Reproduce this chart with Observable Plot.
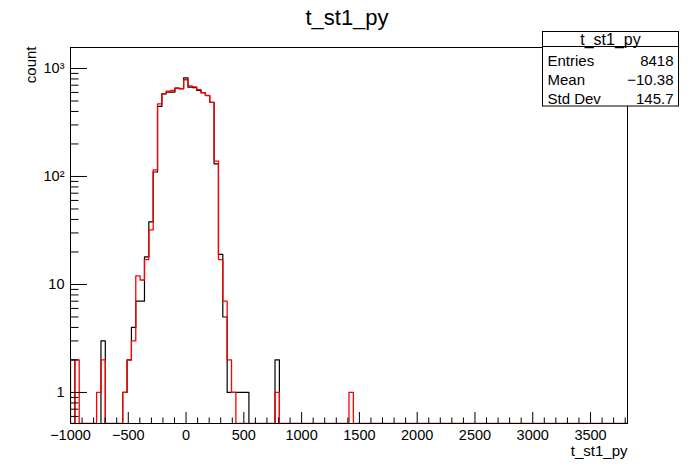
<!DOCTYPE html>
<html><head><meta charset="utf-8">
<script src="https://cdn.jsdelivr.net/npm/d3@7"></script>
<script src="https://cdn.jsdelivr.net/npm/@observablehq/plot@0.6"></script>
<style>
body{margin:0;background:#fff}
svg{font-family:"Liberation Sans",Arial,Helvetica,sans-serif}
</style>
</head><body><div id="chart"></div>
<script>
// ---- data ----
const title = "t_st1_py";
const xLabel = "t_st1_py";
const yLabel = "count";
const xMin = -1000, xMax = 3820, nBins = 128;
const yDomain = [0.516, 1564];

const blackBins   = [0, 7, 12, 13, 14, 15, 16, 17, 18, 19, 20, 21, 22, 23, 24, 25, 26, 27, 28, 29, 30, 31, 32, 33, 34, 35, 36, 37, 38, 39, 40, 47];
const blackCounts = [2, 3, 1, 2, 4, 7, 7, 18, 38, 110, 446, 583, 605, 605, 657, 649, 820, 671, 665, 626, 596, 562, 485, 131, 19, 5, 1, 1, 1, 1, 1, 2];

const redBins   = [1, 6, 7, 12, 13, 14, 15, 16, 17, 18, 19, 20, 21, 22, 23, 24, 25, 26, 27, 28, 29, 30, 31, 32, 33, 34, 35, 36, 37, 47, 64];
const redCounts = [2, 1, 2, 1, 2, 3, 12, 11, 17, 32, 115, 470, 583, 616, 625, 657, 649, 786, 690, 675, 637, 596, 562, 485, 139, 17, 7, 2, 1, 1, 1];

const xMajorTicks = [-1000, -500, 0, 500, 1000, 1500, 2000, 2500, 3000, 3500];
const xMinorTicks = [-900,-800,-700,-600,-400,-300,-200,-100,100,200,300,400,600,700,800,900,1100,1200,1300,1400,1600,1700,1800,1900,2100,2200,2300,2400,2600,2700,2800,2900,3100,3200,3300,3400,3600,3700,3800];
const yMajorTicks = [1, 10, 100, 1000];
const yTickLabels = ["1", "10", "10²", "10³"];
const yMinorTicks = [0.6,0.7,0.8,0.9,2,3,4,5,6,7,8,9,20,30,40,50,60,70,80,90,200,300,400,500,600,700,800,900];

const statsTitle = "t_st1_py";
const statsNames = ["Entries", "Mean", "Std Dev"];
const statsValues = ["8418", "\u221210.38", "145.7"];

// ---- build step outlines ----
const bw = (xMax - xMin) / nBins;
function outline(bins, counts) {
  const full = new Array(nBins).fill(0);
  bins.forEach((b, i) => full[b] = counts[i]);
  const pts = [{x: xMin, y: yDomain[0]}];
  full.forEach((c, i) => pts.push({x: xMin + i * bw, y: c > 0 ? c : yDomain[0]}));
  pts.push({x: xMax, y: yDomain[0]});
  return pts;
}
const blackLine = outline(blackBins, blackCounts);
const redLine = outline(redBins, redCounts);

const W = 696, H = 472;
const mL = 70, mR = 69, mT = 47, mB = 49;
const fw = W - mL - mR, fh = H - mT - mB;
const fmtX = d => d < 0 ? "\u2212" + Math.abs(d) : String(d);

const plot = Plot.plot({
  width: W, height: H,
  marginLeft: mL, marginRight: mR, marginTop: mT, marginBottom: mB,
  style: {fontFamily: "Liberation Sans, Arial, sans-serif", background: "#fff"},
  x: {domain: [xMin, xMax]},
  y: {type: "log", domain: yDomain},
  marks: [
    Plot.line(blackLine, {x: "x", y: "y", curve: "step-after", stroke: "#000", strokeWidth: 1.2, clip: true}),
    Plot.line(redLine, {x: "x", y: "y", curve: "step-after", stroke: "#ff0000", strokeWidth: 1.3, clip: true}),
    // inward ticks
    Plot.ruleX(xMajorTicks, {x: d => d, stroke: "#000", insetTop: fh - 11}),
    Plot.ruleX(xMinorTicks, {x: d => d, stroke: "#000", insetTop: fh - 5.5}),
    Plot.ruleY(yMajorTicks, {y: d => d, stroke: "#000", insetRight: fw - 17}),
    Plot.ruleY(yMinorTicks, {y: d => d, stroke: "#000", insetRight: fw - 8.5}),
    Plot.frame({stroke: "#000"}),
    Plot.axisX({ticks: xMajorTicks, tickFormat: fmtX, tickSize: 0, tickPadding: 6, fontSize: 14.5, label: null, fill: "#000"}),
    Plot.axisY({ticks: yMajorTicks, tickFormat: d => yTickLabels[yMajorTicks.indexOf(d)], tickSize: 0, tickPadding: 6, fontSize: 14.5, label: null, fill: "#000"}),
    Plot.text([title], {frameAnchor: "top", dx: -2, dy: -38, fontSize: 22, fill: "#000"}),
    Plot.text([xLabel], {frameAnchor: "bottom-right", textAnchor: "end", dy: 32, fontSize: 15, fill: "#000"}),
    Plot.text([yLabel], {frameAnchor: "top-left", textAnchor: "end", rotate: -90, dx: -45, dy: -1, fontSize: 15, fill: "#000"})
  ]
});
document.getElementById("chart").appendChild(plot);

// ---- stats box ----
const svg = d3.select(plot);
const bx = 542.5, by = 31.5, bwid = 136, bh = 74.5;
const g = svg.append("g").attr("text-anchor", "start").attr("fill", "#000");
g.append("rect").attr("x", bx).attr("y", by).attr("width", bwid).attr("height", bh)
  .attr("fill", "#fff").attr("stroke", "#000");
g.append("line").attr("x1", bx).attr("x2", bx + bwid).attr("y1", 46.5).attr("y2", 46.5).attr("stroke", "#000");
g.append("text").attr("x", bx + bwid / 2).attr("y", 39.5).attr("dy", "0.35em")
  .attr("text-anchor", "middle").attr("font-size", 16).text(statsTitle);
statsNames.forEach((n, i) => {
  const yy = 61 + i * 19;
  g.append("text").attr("x", bx + 5).attr("y", yy).attr("dy", "0.35em").attr("text-anchor", "start").attr("font-size", 15).text(n);
  g.append("text").attr("x", bx + bwid - 5).attr("y", yy).attr("dy", "0.35em").attr("text-anchor", "end").attr("font-size", 15).text(statsValues[i]);
});
</script>
</body></html>
